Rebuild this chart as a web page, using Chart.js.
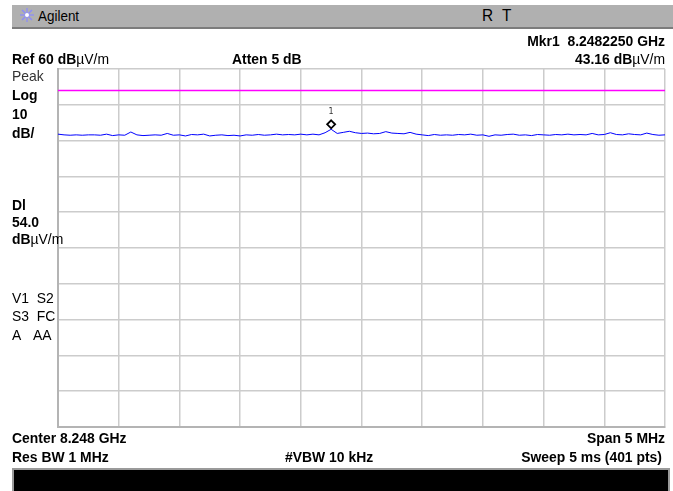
<!DOCTYPE html>
<html>
<head>
<meta charset="utf-8">
<script src="https://cdn.jsdelivr.net/npm/chart.js@4"></script>
<style>
  html, body { margin: 0; padding: 0; background: #fff; }
  #wrap { position: relative; width: 673px; height: 491px; overflow: hidden; background: #fff; }
  #chart { position: absolute; left: 0; top: 0; }
  .lbl {
    position: absolute; white-space: pre; line-height: 1;
    font-family: "Liberation Sans", Arial, sans-serif;
    font-size: 14.5px; font-weight: bold; color: #000;
    transform-origin: left center;
    transform: translateY(-50%) scaleX(0.96);
  }
  .lbl.r { transform-origin: right center; transform: translate(-100%, -50%) scaleX(0.96); }
  .lbl.n { font-weight: normal; }
  .lbl .u { font-weight: normal; }
  #topbar {
    position: absolute; left: 12px; top: 5px; width: 661px; height: 22px;
    background: #b0b0b0; border-bottom: 2px solid #7c7c7c;
  }
  #bottombar {
    position: absolute; left: 12px; top: 468px; width: 654px; height: 23px;
    background: #000; border-top: 2px solid #9a9a9a; border-left: 2px solid #9a9a9a; border-right: 2px solid #9a9a9a;
  }
</style>
</head>
<body>
<div id="wrap">
  <canvas id="chart" width="673" height="491"></canvas>
  <div id="topbar"></div>
  <svg style="position:absolute;left:19px;top:7px" width="16" height="16" viewBox="0 0 16 16">
    <g stroke="#8a8aff" stroke-width="1.2">
      <line x1="8" y1="1" x2="8" y2="15"/><line x1="1" y1="8" x2="15" y2="8"/>
      <line x1="3" y1="3" x2="13" y2="13"/><line x1="13" y1="3" x2="3" y2="13"/>
    </g>
    <circle cx="8" cy="8" r="2" fill="#fff"/>
  </svg>
  <div class="lbl n" style="left:38px;top:16px;font-size:14px">Agilent</div>
  <div class="lbl n" style="left:482px;top:16px;font-size:16px">R</div>
  <div class="lbl n" style="left:502px;top:16px;font-size:16px">T</div>

  <div class="lbl r" style="left:665px;top:41px">Mkr1&nbsp;&nbsp;8.2482250 GHz</div>
  <div class="lbl" style="left:12px;top:59px">Ref 60 dB<span class="u">µV/m</span></div>
  <div class="lbl" style="left:232px;top:59px">Atten 5 dB</div>
  <div class="lbl r" style="left:665px;top:59px">43.16 dB<span class="u">µV/m</span></div>

  <div class="lbl n" style="left:12px;top:76px;color:#333">Peak</div>
  <div class="lbl" style="left:12px;top:95px">Log</div>
  <div class="lbl" style="left:12px;top:114px">10</div>
  <div class="lbl" style="left:12px;top:133px">dB/</div>

  <div class="lbl" style="left:12px;top:205px">Dl</div>
  <div class="lbl" style="left:12px;top:222px">54.0</div>
  <div class="lbl" style="left:12px;top:239px">dB<span class="u">µV/m</span></div>

  <div class="lbl n" style="left:12px;top:298px">V1&nbsp;&nbsp;S2</div>
  <div class="lbl n" style="left:12px;top:316px">S3&nbsp;&nbsp;FC</div>
  <div class="lbl n" style="left:12px;top:335px">A&nbsp;&nbsp;&nbsp;AA</div>

  <div class="lbl" style="left:12px;top:438px">Center 8.248 GHz</div>
  <div class="lbl r" style="left:665px;top:438px">Span 5 MHz</div>
  <div class="lbl" style="left:12px;top:457px">Res BW 1 MHz</div>
  <div class="lbl" style="left:285px;top:457px">#VBW 10 kHz</div>
  <div class="lbl r" style="left:662px;top:457px">Sweep 5 ms (401 pts)</div>

  <div id="bottombar"></div>
</div>
<script>
// Screen settings
const refLevel = 60;      // dBµV/m, top of grid
const dbPerDiv = 10;
const divisions = 10;
const sweepPoints = 401;
const displayLine = 54.0;

// Trace, read every 4th sweep point (dBµV/m)
const traceDb = [
  41.8, 41.6, 41.5, 41.6, 41.5, 41.6, 41.6, 41.5, 41.8, 41.4,
  41.6, 41.5, 42.4, 41.6, 41.4, 41.5, 41.6, 41.5, 42.0, 41.5,
  41.6, 41.3, 41.7, 41.6, 41.8, 41.3, 41.5, 41.6, 41.4, 41.5,
  41.3, 41.6, 41.5, 41.7, 41.5, 41.6, 41.8, 41.6, 41.7, 41.6,
  41.8, 41.6, 41.8, 41.6, 42.2, 43.16, 42.0, 42.3, 42.6, 42.2,
  42.0, 42.1, 41.9, 42.0, 42.5, 42.1, 42.0, 41.9, 42.3, 41.8,
  41.6, 41.4, 41.7, 41.5, 41.6, 41.5, 41.7, 41.6, 41.8, 41.5,
  41.6, 41.2, 41.6, 41.5, 41.7, 41.8, 41.5, 41.6, 41.4, 41.7,
  41.6, 41.5, 41.7, 41.6, 41.8, 41.6, 41.7, 41.6, 42.0, 41.6,
  41.7, 42.2, 41.7, 41.6, 41.9, 41.7, 41.6, 42.1, 41.7, 41.5,
  41.6
];
const traceStep = 4;

// Marker 1
const markerIdx = 180;
const markerDb = 43.16;
const markerLabel = "1";

const bottomLevel = refLevel - dbPerDiv * divisions;
const lastPoint = sweepPoints - 1;

const markerPlugin = {
  id: "marker",
  afterDatasetsDraw(chart) {
    const { ctx, scales } = chart;
    const px = scales.x.getPixelForValue(markerIdx);
    const py = scales.y.getPixelForValue(markerDb);
    const cy = py - 5;
    ctx.save();
    ctx.beginPath();
    ctx.moveTo(px, cy - 4);
    ctx.lineTo(px + 4, cy);
    ctx.lineTo(px, cy + 4);
    ctx.lineTo(px - 4, cy);
    ctx.closePath();
    ctx.fillStyle = "#fff";
    ctx.fill();
    ctx.lineWidth = 1.8;
    ctx.strokeStyle = "#000";
    ctx.stroke();
    ctx.fillStyle = "#333";
    ctx.font = "8px 'DejaVu Sans', sans-serif";
    ctx.textAlign = "center";
    ctx.textBaseline = "middle";
    ctx.fillText(markerLabel, px, py - 17);
    ctx.restore();
  },
};

const gridOpts = {
  color: "#cccccc",
  lineWidth: 1.5,
  drawTicks: false,
};

new Chart(document.getElementById("chart"), {
  type: "line",
  data: {
    datasets: [
      {
        label: "Trace 1",
        data: traceDb.map((v, i) => ({ x: i * traceStep, y: v })),
        borderColor: "#0000ff",
        borderWidth: 1,
        pointRadius: 0,
        tension: 0,
      },
      {
        label: "Display line",
        data: [
          { x: 0, y: displayLine },
          { x: lastPoint, y: displayLine },
        ],
        borderColor: "#ff00ff",
        borderWidth: 1.3,
        pointRadius: 0,
      },
    ],
  },
  options: {
    responsive: false,
    devicePixelRatio: 1,
    animation: false,
    layout: { padding: { left: 58, right: 8, top: 69, bottom: 64 } },
    plugins: {
      legend: { display: false },
      tooltip: { enabled: false },
    },
    scales: {
      x: {
        type: "linear",
        min: 0,
        max: lastPoint,
        ticks: { display: false, stepSize: lastPoint / divisions },
        grid: gridOpts,
        border: { color: "#b4b4b4", width: 2 },
      },
      y: {
        min: bottomLevel,
        max: refLevel,
        ticks: { display: false, stepSize: dbPerDiv },
        grid: gridOpts,
        border: { color: "#b4b4b4", width: 2 },
      },
    },
  },
  plugins: [markerPlugin],
});
</script>
</body>
</html>
